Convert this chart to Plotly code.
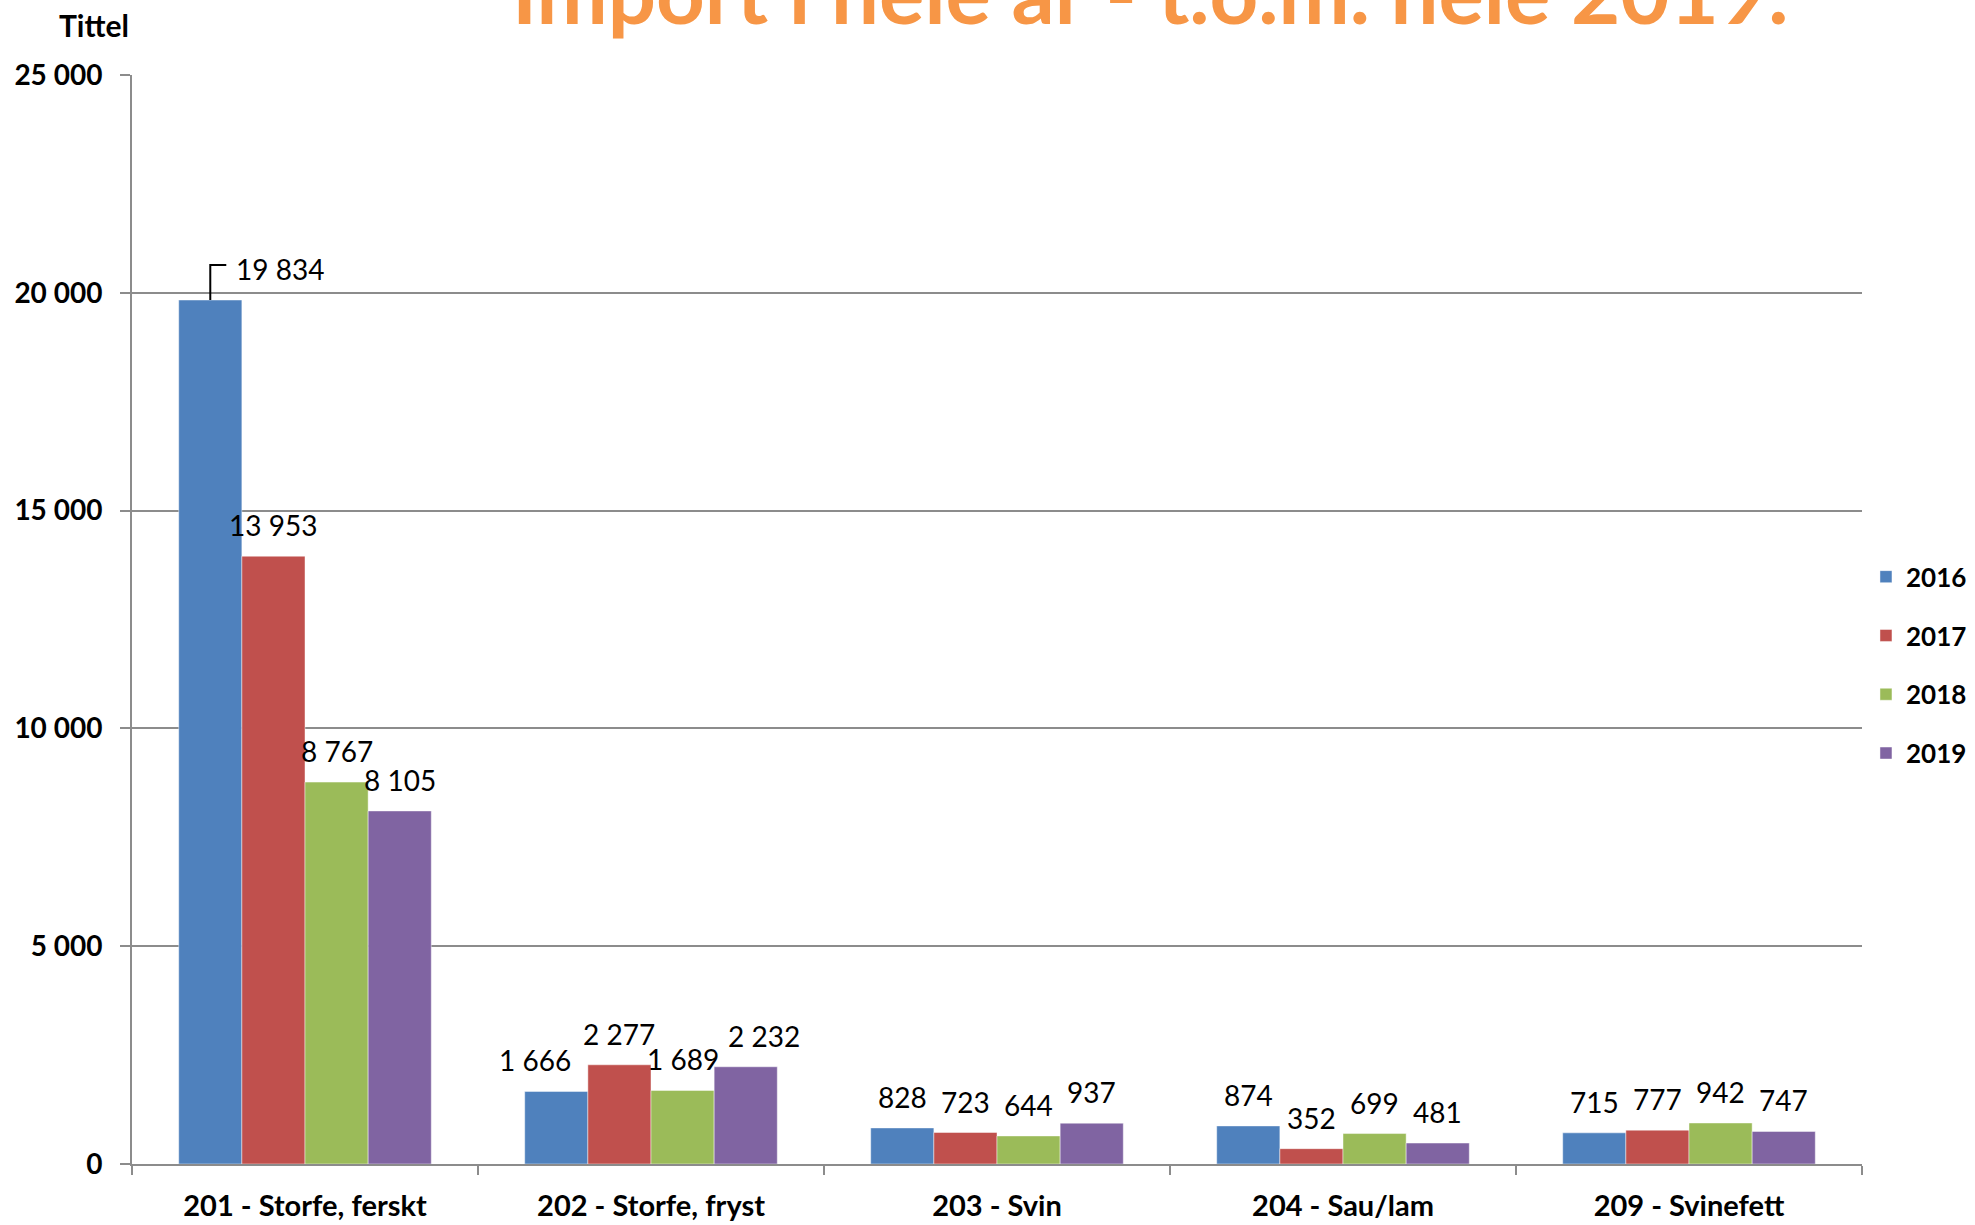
import plotly.graph_objects as go

categories = ["201 - Storfe, ferskt", "202 - Storfe, fryst", "203 - Svin", "204 - Sau/lam", "209 - Svinefett"]
years = ["2016", "2017", "2018", "2019"]
v2016 = [19834, 1666, 828, 874, 715]
v2017 = [13953, 2277, 723, 352, 777]
v2018 = [8767, 1689, 644, 699, 942]
v2019 = [8105, 2232, 937, 481, 747]
series = [v2016, v2017, v2018, v2019]
colors = ["#4F81BD", "#C0504D", "#9BBB59", "#8064A2"]
y_ticks = [0, 5000, 10000, 15000, 20000, 25000]
y_ticklabels = ["0", "5 000", "10 000", "15 000", "20 000", "25 000"]
# per-label horizontal nudges (pixels), as in the reference's manual label placement
label_xshift = [
    [70, -21, 0, 0, 0],
    [0, 0, 0, 0, 0],
    [0, 0, 0, 0, 0],
    [0, 18, 0, 0, 0],
]

FONT = "Lato, 'Open Sans', sans-serif"
BARGAP = 0.27
n = len(years)
bw = (1 - BARGAP) / n

fig = go.Figure()
for yr, vals, col in zip(years, series, colors):
    fig.add_trace(go.Bar(
        x=categories, y=vals, name=yr, legendgroup=yr,
        marker=dict(color=col, line=dict(color="rgba(255,255,255,0.45)", width=1)),
    ))

def fmt(v):
    return f"{v:,}".replace(",", " ")

annotations = []
shapes = []
for j, vals in enumerate(series):
    off = (j - (n - 1) / 2) * bw
    for i, v in enumerate(vals):
        annotations.append(dict(
            x=i + off, y=v, xref="x", yref="y", text=fmt(v), showarrow=False,
            xanchor="center", yanchor="bottom", yshift=12, xshift=label_xshift[j][i],
            font=dict(family=FONT, size=28, color="#000000"),
        ))
        if j == 0 and i == 0:
            # leader line for the moved label
            shapes.append(dict(
                type="path", xref="x", yref="y", xsizemode="pixel", ysizemode="pixel",
                xanchor=i + off, yanchor=v, path="M0,0 V35 H16",
                line=dict(color="#000000", width=2),
            ))

annotations.append(dict(
    text="Import i hele år - t.o.m. hele 2019.", xref="paper", yref="paper",
    x=(1150 - 132) / 1730, y=1.0285, xanchor="center", yanchor="bottom", showarrow=False,
    font=dict(family=FONT, size=85, color="#F79646", weight="bold"),
))
annotations.append(dict(
    text="Tittel", xref="paper", yref="paper",
    x=(94 - 132) / 1730, y=1.046, xanchor="center", yanchor="middle", showarrow=False,
    font=dict(family=FONT, size=30, color="#000000", weight="bold"),
))

fig.update_layout(
    width=1975, height=1225,
    margin=dict(l=132, r=113, t=75, b=61, autoexpand=False),
    paper_bgcolor="white", plot_bgcolor="white",
    barmode="group", bargap=BARGAP, bargroupgap=0,
    font=dict(family=FONT, color="#000000"),
    showlegend=True,
    legend=dict(
        x=1.0023, y=0.458, xanchor="left", yanchor="middle",
        font=dict(family=FONT, size=26, color="#000000", weight="bold"),
        tracegroupgap=22, bgcolor="rgba(0,0,0,0)",
    ),
    annotations=annotations,
    shapes=shapes,
)
fig.update_xaxes(
    type="category", showgrid=False, showline=True, linecolor="#8C8C8C", linewidth=2,
    ticks="outside", tickson="boundaries", ticklen=9, tickcolor="#8C8C8C", tickwidth=2,
    tickfont=dict(family=FONT, size=29, color="#000000", weight="bold"),
    ticklabelstandoff=15,
)
fig.update_yaxes(
    range=[0, 25000], tickvals=y_ticks, ticktext=y_ticklabels,
    showgrid=True, gridcolor="#8C8C8C", gridwidth=2,
    showline=True, linecolor="#8C8C8C", linewidth=2,
    ticks="outside", ticklen=10, tickcolor="#8C8C8C", tickwidth=2,
    tickfont=dict(family=FONT, size=28, color="#000000", weight="bold"),
    ticklabelstandoff=12, zeroline=False,
)

fig.write_html("out.html", config={"displayModeBar": False},
               post_script="document.body.style.margin='0';")
